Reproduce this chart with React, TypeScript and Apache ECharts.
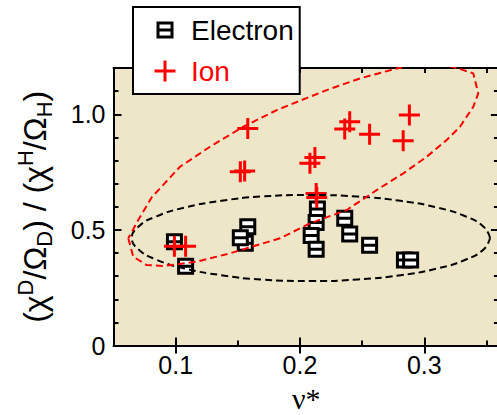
import React, { useEffect, useRef } from 'react';
import * as echarts from 'echarts';

// ---- data ----
const electronX = [0.099, 0.108, 0.158, 0.156, 0.152, 0.214, 0.213, 0.209, 0.213, 0.236, 0.240, 0.256, 0.284, 0.289];
const electronY = [0.449, 0.343, 0.514, 0.442, 0.466, 0.590, 0.532, 0.476, 0.416, 0.550, 0.482, 0.434, 0.370, 0.370];

const ionX = [0.158, 0.152, 0.1555, 0.240, 0.236, 0.256, 0.288, 0.283, 0.212, 0.208, 0.213, 0.2135, 0.099, 0.108];
const ionY = [0.939, 0.751, 0.755, 0.968, 0.936, 0.914, 0.997, 0.885, 0.813, 0.788, 0.657, 0.640, 0.430, 0.430];

// outline of the electron ellipse (black, dashed)
const electronEllipse: number[][] = [
  [0.3529, 0.4650], [0.3479, 0.5130], [0.3335, 0.5579], [0.3107, 0.5964], [0.2809, 0.6258],
  [0.2462, 0.6443], [0.2089, 0.6508], [0.1683, 0.6443], [0.1368, 0.6258], [0.1070, 0.5964],
  [0.0842, 0.5579], [0.0698, 0.5130], [0.0648, 0.4650], [0.0698, 0.4170], [0.0842, 0.3721],
  [0.1070, 0.3336], [0.1368, 0.3042], [0.1683, 0.2857], [0.2089, 0.2792], [0.2462, 0.2857],
  [0.2809, 0.3042], [0.3107, 0.3336], [0.3335, 0.3721], [0.3479, 0.4170], [0.3529, 0.4650],
];

// outline of the ion ellipse (red, dashed)
const ionEllipse: number[][] = [
  [0.0619, 0.4637], [0.0659, 0.3842], [0.0767, 0.3483], [0.0900, 0.3440], [0.1169, 0.3626],
  [0.1437, 0.3989], [0.1839, 0.4637], [0.2081, 0.5285], [0.2376, 0.5860], [0.2617, 0.6724],
  [0.2831, 0.7446], [0.3019, 0.8163], [0.3180, 0.8885], [0.3287, 0.9460], [0.3394, 1.0324],
  [0.3434, 1.0903], [0.3394, 1.1768], [0.3314, 1.1910], [0.3126, 1.2213], [0.2925, 1.2170],
  [0.2751, 1.1940], [0.2483, 1.1551], [0.2215, 1.1046], [0.1813, 1.0182], [0.1544, 0.9460],
  [0.1276, 0.8596], [0.1035, 0.7731], [0.0809, 0.6422], [0.0699, 0.5428], [0.0619, 0.4637],
];

const xMajorTicks = [0.1, 0.2, 0.3];
const yMajorTicks = [0, 0.5, 1.0];
const X_MIN = 0.05;
const X_MAX = 0.36;
const Y_MIN = 0;
const Y_MAX = 1.2;

const SANS = "'Liberation Sans', Arial, sans-serif";
const SERIF = "'Liberation Serif', 'Times New Roman', serif";
const BG = '#EEE6C8';
const RED = '#FF0000';

const squarePath = 'path://M0,0H10V10H0ZM0,5H10';
const squareLegendPath = 'path://M-2.5,-2.5M12.5,12.5M0,0H10V10H0ZM0,5H10';
const plusPath = 'path://M0,10H20M10,0V20';

function isIn(v: number, list: number[]) {
  return list.some((t) => Math.abs(t - v) < 1e-6);
}

export default function App() {
  const ref = useRef<HTMLDivElement>(null);

  useEffect(() => {
    if (!ref.current) return;
    const chart = echarts.init(ref.current, null, { renderer: 'svg' });
    const zip = (xs: number[], ys: number[]) => xs.map((x, i) => [x, ys[i]]);

    const lineStyle = { color: '#000', width: 2 };
    const minorTick = { show: true, inside: true, length: 5, lineStyle: { color: '#000', width: 2 } };
    const baseX = { type: 'value', min: X_MIN, max: X_MAX, interval: 0.05, splitLine: { show: false } };
    const baseY = { type: 'value', min: Y_MIN, max: Y_MAX, interval: 0.1, splitLine: { show: false } };

    const xLabel = {
      show: true,
      customValues: xMajorTicks,
      formatter: (v: number) => (isIn(v, xMajorTicks) ? v.toFixed(1) : ''),
      margin: 7,
      fontSize: 25,
      color: '#000',
      fontFamily: SANS,
    };
    const yLabel = {
      show: true,
      customValues: yMajorTicks,
      formatter: (v: number) => (isIn(v, yMajorTicks) ? (Math.abs(v) < 1e-9 ? '0' : v.toFixed(1)) : ''),
      margin: 8,
      fontSize: 25,
      color: '#000',
      fontFamily: SANS,
    };

    const option: any = {
      animation: false,
      backgroundColor: '#fff',
      grid: {
        left: 113.5,
        top: 68,
        width: 385.4,
        height: 277.6,
        show: true,
        backgroundColor: BG,
        borderWidth: 0,
        containLabel: false,
        outerBoundsMode: 'none',
      },
      legend: {
        left: 133,
        top: 7,
        orient: 'vertical',
        backgroundColor: '#fff',
        borderColor: '#000',
        borderWidth: 2,
        borderRadius: 0,
        padding: [9, 6, 9, 20],
        itemGap: 13,
        itemWidth: 42,
        itemHeight: 21,
        selectedMode: false,
        textStyle: { fontFamily: SANS, fontSize: 28, color: '#000' },
        data: [
          {
            name: 'Electron',
            icon: squareLegendPath,
            itemStyle: { color: '#fff', borderColor: '#000', borderWidth: 3 },
            textStyle: { color: '#000' },
          },
          {
            name: 'Ion',
            icon: plusPath,
            itemStyle: { color: 'rgba(0,0,0,0)', borderColor: RED, borderWidth: 3 },
            textStyle: { color: RED },
          },
        ],
      },
      xAxis: [
        {
          ...baseX,
          position: 'bottom',
          axisLine: { show: true, onZero: false, lineStyle },
          axisTick: minorTick,
          axisLabel: { show: false },
          name: 'ν*',
          nameLocation: 'middle',
          nameGap: 38,
          nameTextStyle: { fontFamily: SERIF, fontSize: 30, lineHeight: 30, color: '#000' },
        },
        {
          ...baseX,
          position: 'bottom',
          axisLine: { show: false },
          axisTick: { ...minorTick, length: 8, customValues: xMajorTicks },
          axisLabel: xLabel,
        },
        {
          ...baseX,
          position: 'top',
          axisLine: { show: true, onZero: false, lineStyle },
          axisTick: minorTick,
          axisLabel: { show: false },
        },
        {
          ...baseX,
          position: 'top',
          axisLine: { show: false },
          axisTick: { ...minorTick, length: 8, customValues: xMajorTicks },
          axisLabel: { show: false },
        },
      ],
      yAxis: [
        {
          ...baseY,
          position: 'left',
          axisLine: { show: true, onZero: false, lineStyle },
          axisTick: minorTick,
          axisLabel: { show: false },
          name: '{p|(χ}{sup|D}{p|/Ω}{sub|D}{p|) / (χ}{sup|H}{p|/Ω}{sub|H}{p|)}',
          nameLocation: 'middle',
          nameGap: 58,
          nameTextStyle: {
            color: '#000',
            fontFamily: SANS,
            fontSize: 32,
            rich: {
              p: { fontFamily: SANS, fontSize: 32, lineHeight: 41, color: '#000' },
              sup: { fontFamily: SANS, fontSize: 22, lineHeight: 22, verticalAlign: 'top', color: '#000' },
              sub: { fontFamily: SANS, fontSize: 22, lineHeight: 22, verticalAlign: 'bottom', color: '#000' },
            },
          },
        },
        {
          ...baseY,
          position: 'left',
          axisLine: { show: false },
          axisTick: { ...minorTick, length: 8, customValues: yMajorTicks },
          axisLabel: yLabel,
        },
        {
          ...baseY,
          position: 'right',
          axisLine: { show: true, onZero: false, lineStyle },
          axisTick: minorTick,
          axisLabel: { show: false },
        },
        {
          ...baseY,
          position: 'right',
          axisLine: { show: false },
          axisTick: { ...minorTick, length: 8, customValues: yMajorTicks },
          axisLabel: { show: false },
        },
      ],
      series: [
        {
          type: 'line',
          xAxisIndex: 0,
          yAxisIndex: 0,
          data: electronEllipse,
          smooth: 0.5,
          symbol: 'none',
          silent: true,
          lineStyle: { color: '#000', width: 2, type: [7, 4] },
        },
        {
          type: 'line',
          xAxisIndex: 0,
          yAxisIndex: 0,
          data: ionEllipse,
          smooth: false,
          symbol: 'none',
          silent: true,
          lineStyle: { color: RED, width: 2, type: [7, 4] },
        },
        {
          type: 'scatter',
          name: 'Electron',
          xAxisIndex: 0,
          yAxisIndex: 0,
          data: zip(electronX, electronY),
          symbol: squarePath,
          symbolSize: 14,
          silent: true,
          itemStyle: { color: '#fff', borderColor: '#000', borderWidth: 3, opacity: 1 },
        },
        {
          type: 'scatter',
          name: 'Ion',
          xAxisIndex: 0,
          yAxisIndex: 0,
          data: zip(ionX, ionY),
          symbol: plusPath,
          symbolSize: 21,
          silent: true,
          itemStyle: { color: 'rgba(0,0,0,0)', borderColor: RED, borderWidth: 3, opacity: 1 },
        },
      ],
    };

    chart.setOption(option);
    return () => chart.dispose();
  }, []);

  return <div ref={ref} style={{ position: 'fixed', left: 0, top: 0, width: 497, height: 415 }} />;
}
